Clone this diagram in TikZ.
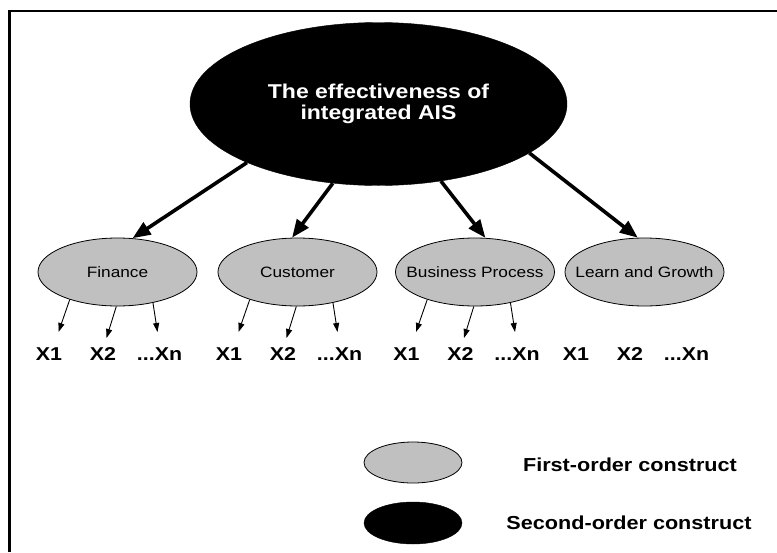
\documentclass[tikz,border=0pt]{standalone}
\usepackage{fontspec}
\setmainfont{Liberation Sans}[FakeStretch=1.15]
\usetikzlibrary{shapes.geometric,arrows.meta}
\definecolor{fogray}{RGB}{192,192,192}
\begin{document}
\begin{tikzpicture}[x=1pt,y=-1pt,
  second/.style={ellipse,fill=black,draw=black,inner sep=0pt},
  first/.style={ellipse,fill=fogray,draw=black,line width=0.8pt,inner sep=0pt},
  bigarrow/.style={line width=3.6pt,-{Triangle[length=18pt,width=14pt]}},
  smallarrow/.style={line width=0.9pt,-{Triangle[length=9pt,width=6pt]}},
  xlab/.style={font=\fontsize{18.6}{20}\selectfont\bfseries,inner sep=0pt},
  cfont/.style={font=\fontsize{15}{17}\selectfont,inner sep=0pt},
  legtext/.style={font=\fontsize{18.8}{20}\selectfont\bfseries,inner sep=0pt}]
\useasboundingbox (0,0) rectangle (777,552);
% frame
\draw[line width=2.2pt] (9.5,552) |- (777,11);
% second-order construct
\node[second,minimum width=377pt,minimum height=163pt,text=white,align=center,
      font=\fontsize{20}{21}\selectfont\bfseries] (top) at (378.5,104)
  {The effectiveness of\\integrated AIS};
% first-order constructs and indicators
\foreach \n/\x/\t in {fin/117.5/Finance, cus/297.5/Customer, bus/475/Business Process, lg/644.5/Learn and Growth} {
  \node[first,minimum width=159pt,minimum height=68pt,label={[cfont]center:\t}] (\n) at (\x,272) {};
  \node[xlab] (\n x1) at (\x-68.5,354.5) {X1};
  \node[xlab] (\n x2) at (\x-14.5,354.5) {X2};
  \node[xlab] (\n xn) at (\x+42,354.5) {...Xn};
}
\foreach \n in {fin,cus,bus} {
  \coordinate (\n a1) at ([shift={(-59,60)}]\n.center);
  \coordinate (\n a2) at ([shift={(-11,66)}]\n.center);
  \coordinate (\n a3) at ([shift={(40,60)}]\n.center);
  \draw[smallarrow] (\n.210) -- (\n a1);
  \draw[smallarrow] (\n.268) -- (\n a2);
  \draw[smallarrow] (\n.319) -- (\n a3);
}
% big arrows
\draw[bigarrow] (top.204) -- (fin.66);
\draw[bigarrow] (top.240) -- (cus.99);
\draw[bigarrow] (top.-51) -- (bus.73);
\draw[bigarrow] (top.-18) -- (lg.101);
% legend
\node[first,minimum width=98pt,minimum height=41pt] (legfirst) at (413,462.5) {};
\node[second,minimum width=98pt,minimum height=42pt] (legsecond) at (413,523) {};
\node[legtext] (legfirsttext) at (630,464.5) {First-order construct};
\node[legtext] (legsecondtext) at (629,523) {Second-order construct};
\end{tikzpicture}
\end{document}
